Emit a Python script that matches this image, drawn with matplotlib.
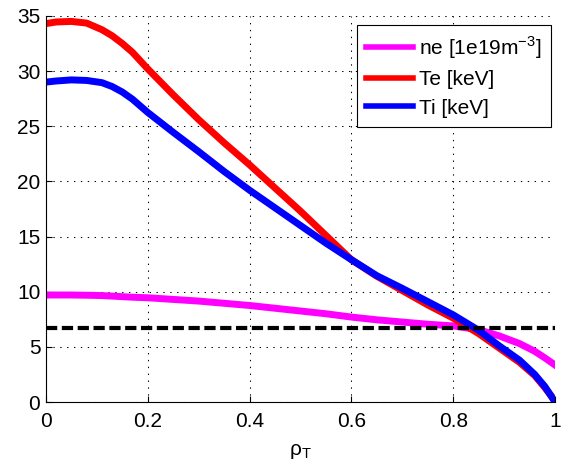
import numpy as np
import matplotlib
matplotlib.use("Agg")
import matplotlib.pyplot as plt

# profile values
rho = [0, 0.02, 0.05, 0.08, 0.11, 0.13, 0.15, 0.17, 0.2, 0.25, 0.3, 0.35, 0.4, 0.45, 0.5,
       0.55, 0.6, 0.65, 0.7, 0.75, 0.8, 0.85, 0.89, 0.93, 0.96, 0.98, 1.0]
ne = [9.7, 9.7, 9.7, 9.68, 9.65, 9.6, 9.55, 9.5, 9.45, 9.3, 9.15, 8.95, 8.75, 8.5, 8.25,
      8.0, 7.7, 7.45, 7.25, 7.05, 6.9, 6.55, 6.0, 5.3, 4.6, 4.0, 3.35]
Te = [34.3, 34.45, 34.5, 34.35, 33.75, 33.2, 32.5, 31.7, 30.2, 27.85, 25.6, 23.5, 21.5, 19.4, 17.3,
      15.1, 12.9, 11.4, 10.1, 8.8, 7.6, 6.2, 4.9, 3.6, 2.4, 1.3, 0.1]
Ti = [29.0, 29.1, 29.2, 29.15, 28.95, 28.6, 28.1, 27.45, 26.25, 24.45, 22.7, 20.9, 19.2, 17.6, 16.0,
      14.4, 12.9, 11.45, 10.3, 9.1, 7.9, 6.5, 5.1, 3.8, 2.5, 1.4, 0.0]
threshold = 6.7

labels = ["ne [1e19m$^\\mathregular{-3}$]", "Te [keV]", "Ti [keV]"]
colors = ["#ff00ff", "#ff0000", "#0000ff"]
xticks = [0, 0.2, 0.4, 0.6, 0.8, 1]
yticks = [0, 5, 10, 15, 20, 25, 30, 35]

plt.rcParams['font.family'] = ['Liberation Sans', 'DejaVu Sans']
plt.rcParams['font.size'] = 15

fig = plt.figure(figsize=(5.74, 4.68), dpi=100)
ax = fig.add_axes([0.080, 0.141, 0.887, 0.825])

for vals, lab, col in zip([ne, Te, Ti], labels, colors):
    ax.plot(rho, vals, color=col, lw=5, label=lab, solid_joinstyle='round')
ax.axhline(threshold, color='k', lw=3, ls=(0, (2.7, 1.1)))

ax.set_xlim(0, 1)
ax.set_ylim(0, 35)
ax.set_xticks(xticks)
ax.set_xticklabels(["0", "0.2", "0.4", "0.6", "0.8", "1"])
ax.set_yticks(yticks)
ax.grid(True, ls=(0, (1.3, 5.3)), color='k', lw=0.75)
ax.spines['top'].set_visible(False)
ax.spines['right'].set_visible(False)
ax.tick_params(direction='in', length=4, width=0.8, pad=4)
ax.tick_params(axis='x', pad=7)
ax.set_xlabel("ρ$_\\mathregular{T}$", labelpad=8)

leg = ax.legend(loc='upper right', bbox_to_anchor=(551 / 574, 1 - 25 / 468),
                bbox_transform=fig.transFigure, borderaxespad=0, fancybox=False,
                framealpha=1, edgecolor='k', handlelength=2.25, handletextpad=0.3,
                labelspacing=0.45, borderpad=0.45)
leg.get_frame().set_linewidth(0.8)
for h in leg.get_lines():
    h.set_linewidth(4)

fig.savefig("out.png", dpi=100)
